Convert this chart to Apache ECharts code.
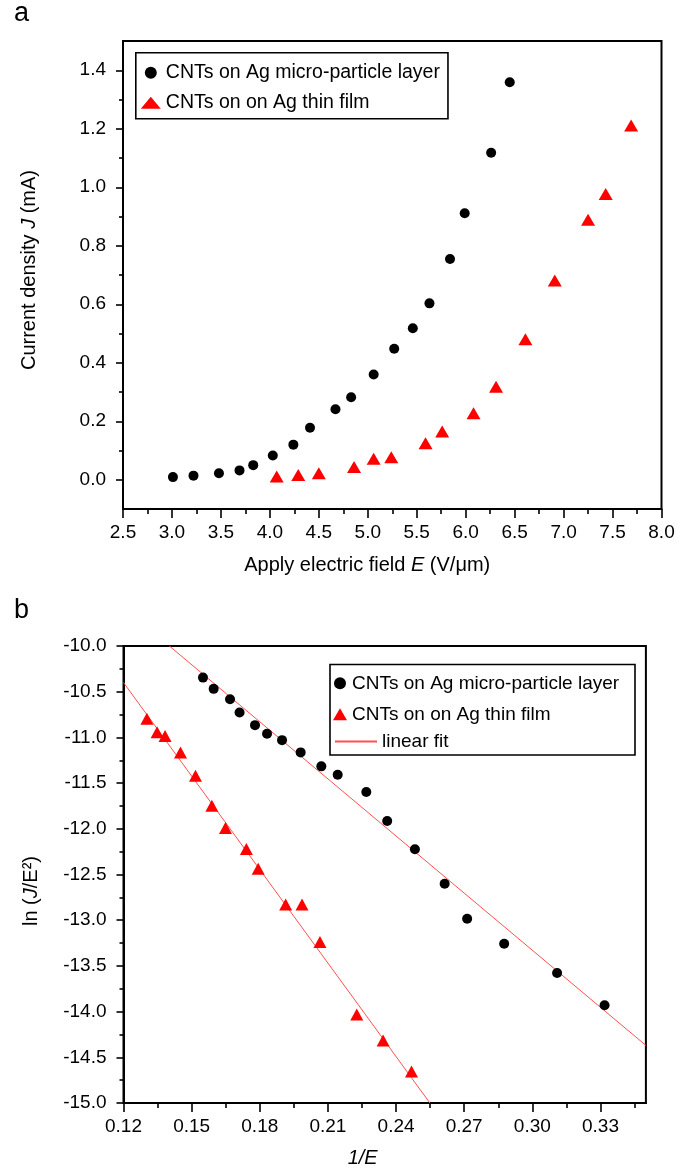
<!DOCTYPE html>
<html><head><meta charset="utf-8">
<script src="https://cdn.jsdelivr.net/npm/echarts@6/dist/echarts.min.js"></script>
<style>html,body{margin:0;padding:0;background:#fff}#c{width:692px;height:1170px}</style>
</head><body><div id="c"></div>
<script>
// ---- Panel a: J (mA) vs applied field E (V/um)
const aMicroE = [3.01,3.22,3.48,3.69,3.83,4.03,4.24,4.41,4.67,4.83,5.06,5.27,5.46,5.63,5.84,5.99,6.26,6.45];
const aMicroJ = [0.009,0.014,0.022,0.032,0.050,0.083,0.120,0.178,0.241,0.282,0.360,0.448,0.518,0.603,0.755,0.911,1.118,1.359];
const aFilmE = [4.07,4.29,4.50,4.86,5.06,5.24,5.59,5.76,6.08,6.31,6.61,6.91,7.25,7.43,7.69];
const aFilmJ = [0.011,0.016,0.022,0.044,0.072,0.077,0.125,0.165,0.227,0.318,0.480,0.681,0.889,0.977,1.211];
const aXMajor = [2.5,3.0,3.5,4.0,4.5,5.0,5.5,6.0,6.5,7.0,7.5,8.0];
const aXMinor = [2.75,3.25,3.75,4.25,4.75,5.25,5.75,6.25,6.75,7.25,7.75];
const aYMajor = [0.0,0.2,0.4,0.6,0.8,1.0,1.2,1.4];
const aYMinor = [0.1,0.3,0.5,0.7,0.9,1.1,1.3];

// ---- Panel b: ln(J/E^2) vs 1/E
const bMicroX = [0.1550,0.1597,0.1669,0.1711,0.1779,0.1832,0.1898,0.1980,0.2071,0.2143,0.2269,0.2361,0.2483,0.2614,0.2713,0.2876,0.3109,0.3318];
const bMicroY = [-10.346,-10.469,-10.582,-10.728,-10.866,-10.961,-11.030,-11.164,-11.317,-11.408,-11.598,-11.914,-12.223,-12.602,-12.984,-13.257,-13.577,-13.930];
const bFilmX = [0.1303,0.1348,0.1383,0.1451,0.1517,0.1589,0.1649,0.1741,0.1793,0.1914,0.1986,0.2065,0.2227,0.2343,0.2468];
const bFilmY = [-10.797,-10.943,-10.986,-11.164,-11.419,-11.747,-11.991,-12.220,-12.438,-12.828,-12.828,-13.239,-14.032,-14.316,-14.654];
const fitMicroX = [0.1402,0.3500];
const fitMicroY = [-10.00,-14.37];
const fitFilmX = [0.1200,0.2549];
const fitFilmY = [-10.40,-15.00];
const bXMajor = [0.12,0.15,0.18,0.21,0.24,0.27,0.30,0.33];
const bXMinor = [0.135,0.165,0.195,0.225,0.255,0.285,0.315,0.345];
const bYMajor = [-10.0,-10.5,-11.0,-11.5,-12.0,-12.5,-13.0,-13.5,-14.0,-14.5,-15.0];
const bYMinor = [-10.25,-10.75,-11.25,-11.75,-12.25,-12.75,-13.25,-13.75,-14.25,-14.75];

const NAME_MICRO = 'CNTs on Ag micro-particle layer';
const NAME_FILM = 'CNTs on on Ag thin film';
const NAME_FIT = 'linear fit';
const FONT = 'Liberation Sans, Arial, sans-serif';
const FIT_COLOR = '#ff5050';
const zip = (a, b) => a.map((v, i) => [v, b[i]]);

function mainAxis(grid, min, max, major, dec, tickLen, labelMargin, extra) {
  return Object.assign({
    type: 'value', gridIndex: grid, min: min, max: max,
    axisLine: {show: true, onZero: false, lineStyle: {color: '#000', width: 2}},
    axisTick: {show: true, customValues: major, length: tickLen, inside: false, lineStyle: {color: '#000', width: 1.6}},
    axisLabel: {show: true, customValues: major, formatter: v => v.toFixed(dec), color: '#000', fontSize: 19, fontFamily: FONT, margin: labelMargin},
    splitLine: {show: false}
  }, extra);
}
function minorAxis(grid, min, max, minor, tickLen, pos) {
  return {
    type: 'value', gridIndex: grid, min: min, max: max, position: pos, offset: 0,
    axisLine: {show: false, onZero: false},
    axisTick: {show: true, customValues: minor, length: tickLen, lineStyle: {color: '#000', width: 1.6}},
    axisLabel: {show: false}, splitLine: {show: false}
  };
}

const richBase = {fontSize: 20, fontFamily: FONT, color: '#000'};
const chart = echarts.init(document.getElementById('c'), null, {renderer: 'canvas'});
chart.setOption({
  animation: false,
  backgroundColor: '#fff',
  graphic: [
    {type: 'text', left: 14, top: 0, style: {text: 'a', font: '27px ' + FONT, fill: '#000'}},
    {type: 'text', left: 14, top: 597, style: {text: 'b', font: '27px ' + FONT, fill: '#000'}},
    {type: 'rect', left: 327.5, top: 662, shape: {width: 305, height: 90.5}, style: {fill: 'none', stroke: '#000', lineWidth: 1.6}, z: 10}
  ],
  grid: [
    {left: 123, top: 41, width: 538.5, height: 468, show: true, borderColor: '#000', borderWidth: 2},
    {left: 123.5, top: 646, width: 522.4, height: 457, show: true, borderColor: '#000', borderWidth: 2}
  ],
  legend: [
    {orient: 'vertical', left: 135.8, top: 52.7, padding: [10, 8, 6, 5], itemWidth: 20, itemHeight: 12, itemGap: 10,
     borderColor: '#000', borderWidth: 1.6, data: [NAME_MICRO, NAME_FILM],
     textStyle: {fontSize: 19.5, fontFamily: FONT, color: '#000'}},
    {orient: 'vertical', left: 333, top: 673.8, padding: 0, itemWidth: 14, itemHeight: 12, itemGap: 12,
     data: [NAME_MICRO, NAME_FILM], textStyle: {fontSize: 19, fontFamily: FONT, color: '#000'}},
    {orient: 'vertical', left: 335, top: 732, padding: 0, itemWidth: 42, itemHeight: 2,
     data: [{name: NAME_FIT, icon: 'rect'}], textStyle: {fontSize: 19, fontFamily: FONT, color: '#000'}}
  ],
  xAxis: [
    mainAxis(0, 2.5, 8.0, aXMajor, 1, 9, 14, {position: 'bottom',
      name: '{n|Apply electric field }{i|E}{n| (V/μm)}', nameLocation: 'middle', nameGap: 46,
      nameTextStyle: {padding: [0, 50, 0, 0], rich: {n: richBase, i: Object.assign({fontStyle: 'italic'}, richBase)}}}),
    minorAxis(0, 2.5, 8.0, aXMinor, 5, 'bottom'),
    mainAxis(1, 0.12, 0.35, bXMajor, 2, 9, 14, {position: 'bottom',
      name: '{i|1/E}', nameLocation: 'middle', nameGap: 45,
      nameTextStyle: {padding: [0, 44, 0, 0], rich: {i: Object.assign({fontStyle: 'italic'}, richBase)}}}),
    minorAxis(1, 0.12, 0.35, bXMinor, 5, 'bottom')
  ],
  yAxis: [
    mainAxis(0, -0.1, 1.5, aYMajor, 1, 7, 17, {position: 'left',
      name: '{n|Current density }{i|J}{n| (mA)}', nameLocation: 'middle', nameGap: 84,
      nameTextStyle: {padding: [0, 0, 0, 10], rich: {n: richBase, i: Object.assign({fontStyle: 'italic'}, richBase)}}}),
    minorAxis(0, -0.1, 1.5, aYMinor, 4, 'left'),
    mainAxis(1, -15, -10, bYMajor, 1, 7, 17, {position: 'left',
      name: '{n|ln (}{i|J}{n|/E²)}', nameLocation: 'middle', nameGap: 82,
      nameTextStyle: {padding: [0, 33, 0, 0], rich: {n: richBase, i: Object.assign({fontStyle: 'italic'}, richBase)}}}),
    minorAxis(1, -15, -10, bYMinor, 4, 'left')
  ],
  series: [
    {name: NAME_MICRO, type: 'scatter', xAxisIndex: 0, yAxisIndex: 0, symbol: 'circle', symbolSize: 10,
     itemStyle: {color: '#000', opacity: 1}, data: zip(aMicroE, aMicroJ)},
    {name: NAME_FILM, type: 'scatter', xAxisIndex: 0, yAxisIndex: 0, symbol: 'triangle', symbolSize: [14, 12],
     itemStyle: {color: '#ff0000', opacity: 1}, data: zip(aFilmE, aFilmJ)},
    {name: NAME_FIT, type: 'line', xAxisIndex: 2, yAxisIndex: 2, symbol: 'none', z: 1,
     itemStyle: {color: FIT_COLOR}, lineStyle: {color: FIT_COLOR, width: 1}, data: zip(fitMicroX, fitMicroY)},
    {name: NAME_FIT, type: 'line', xAxisIndex: 2, yAxisIndex: 2, symbol: 'none', z: 1,
     itemStyle: {color: FIT_COLOR}, lineStyle: {color: FIT_COLOR, width: 1}, data: zip(fitFilmX, fitFilmY)},
    {name: NAME_MICRO, type: 'scatter', xAxisIndex: 2, yAxisIndex: 2, symbol: 'circle', symbolSize: 10,
     itemStyle: {color: '#000', opacity: 1}, data: zip(bMicroX, bMicroY)},
    {name: NAME_FILM, type: 'scatter', xAxisIndex: 2, yAxisIndex: 2, symbol: 'triangle', symbolSize: [13, 12],
     itemStyle: {color: '#ff0000', opacity: 1}, data: zip(bFilmX, bFilmY)}
  ]
});
</script></body></html>
